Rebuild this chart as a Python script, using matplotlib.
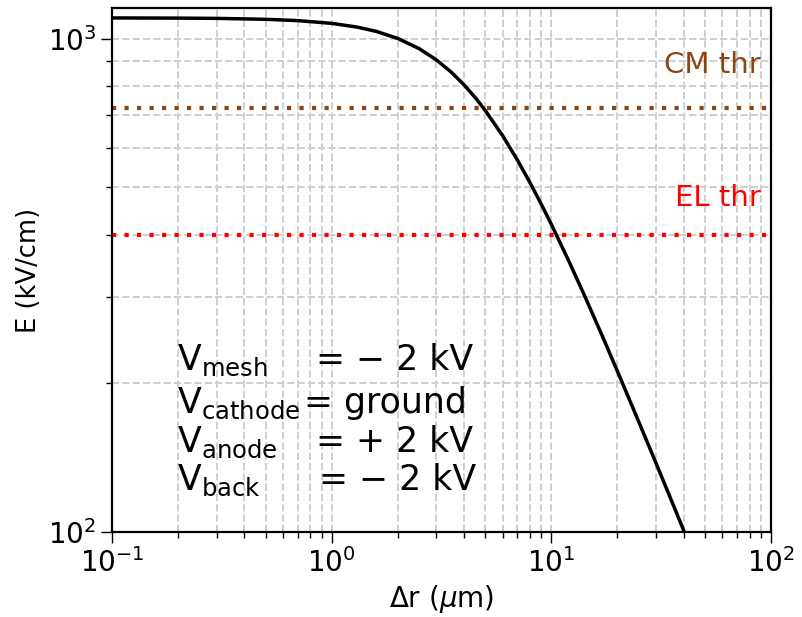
import matplotlib
matplotlib.use('Agg')
import matplotlib.pyplot as plt

# field along the gap
dr_um = [0.1, 0.2, 0.3, 0.5, 0.7, 1.0, 1.3, 1.6, 2.0, 2.5, 3.0, 3.5, 4.0, 4.5,
         5.0, 6.0, 7.0, 8.0, 9.0, 10, 12, 14, 17, 20, 25, 30, 35, 41]
e_kvcm = [1101.7, 1100.8, 1099.4, 1094.8, 1088.1, 1074.1, 1056.0, 1034.4,
          1001.1, 954.8, 905.5, 855.7, 806.8, 760.0, 715.7, 636.1, 568.1,
          510.6, 461.8, 420.4, 354.4, 304.9, 250.6, 211.7, 167.3, 137.7,
          116.6, 98.2]

cm_thr = 725
el_thr = 400

lines_lbl = [r'$\mathregular{V_{mesh}}$', r'$\mathregular{V_{cathode}}$',
             r'$\mathregular{V_{anode}}$', r'$\mathregular{V_{back}}$']
lines_val = ['= \u2212 2 kV', '= ground', '= + 2 kV', '= \u2212 2 kV']

fig = plt.figure(figsize=(8.02, 6.17), dpi=100)
ax = fig.add_axes([112 / 802, 1 - 532 / 617, 659 / 802, 524 / 617])


def ax_xy(px, py):
    return (px - 112) / 659, (532 - py) / 524


ax.plot(dr_um, e_kvcm, color='black', lw=2.5, zorder=3)
ax.axhline(cm_thr, color='#8B4513', lw=3, linestyle=(0, (1, 2)), zorder=2)
ax.axhline(el_thr, color='red', lw=3, linestyle=(0, (1, 2)), zorder=2)

ax.set_xscale('log')
ax.set_yscale('log')
ax.set_xlim(0.1, 100)
ax.set_ylim(100, 1154)

ax.grid(True, which='both', linestyle='--', color='#cfcfcf', lw=1.4)
ax.set_axisbelow(True)
for s in ax.spines.values():
    s.set_linewidth(1.6)
ax.tick_params(which='major', labelsize=20, length=8, width=1)
ax.tick_params(which='minor', length=4, width=1)

ax.set_xlabel(r'$\Delta$r ($\mu$m)', fontsize=20)
ax.set_ylabel('E (kV/cm)', fontsize=18.5)

x, y = ax_xy(761, 65)
ax.text(x, y, 'CM thr', color='#8B4513', fontsize=21, ha='right', va='center', transform=ax.transAxes)
x, y = ax_xy(761, 198)
ax.text(x, y, 'EL thr', color='red', fontsize=21, ha='right', va='center', transform=ax.transAxes)

base_y = [370, 413, 452, 490]
eq_x = [316, 304, 316, 319]
for lbl, val, by, ex in zip(lines_lbl, lines_val, base_y, eq_x):
    x, y = ax_xy(177, by)
    ax.text(x, y, lbl, fontsize=25, ha='left', va='baseline', transform=ax.transAxes)
    x, y = ax_xy(ex, by)
    ax.text(x, y, val, fontsize=25, ha='left', va='baseline', transform=ax.transAxes)

fig.savefig('out.png', dpi=100)
